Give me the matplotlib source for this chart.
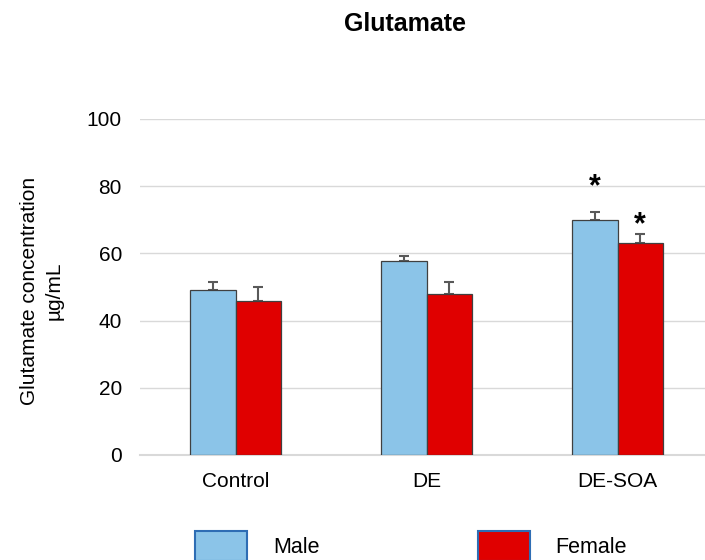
import numpy as np
import matplotlib.pyplot as plt
from matplotlib.patches import Patch

plt.rcParams['font.family'] = ['Liberation Sans', 'DejaVu Sans']

groups = ['Control', 'DE', 'DE-SOA']
male = [49.1, 57.6, 69.8]
female = [45.8, 48.0, 63.2]
male_err = [2.4, 1.7, 2.6]
female_err = [4.3, 3.6, 2.6]
male_sig = [False, False, True]
female_sig = [False, False, True]

blue = '#8BC4E8'
red = '#E00000'

fig = plt.figure(figsize=(7.05, 5.6), dpi=100)
ax = fig.add_axes([140 / 705, 1 - 455 / 560, 565 / 705, 336 / 560])

x = np.arange(len(groups))
w = 0.238
ax.bar(x - w / 2, male, w, color=blue, edgecolor='#404040', linewidth=0.9, zorder=3)
ax.bar(x + w / 2, female, w, color=red, edgecolor='#404040', linewidth=0.9, zorder=3)
ax.errorbar(x - w / 2, male, yerr=[np.zeros(3), male_err], fmt='none',
            ecolor='#595959', elinewidth=1.5, capsize=3.5, capthick=1.5, zorder=2)
ax.errorbar(x + w / 2, female, yerr=[np.zeros(3), female_err], fmt='none',
            ecolor='#595959', elinewidth=1.5, capsize=3.5, capthick=1.5, zorder=2)

for i in range(len(groups)):
    if male_sig[i]:
        ax.text(x[i] - w / 2, male[i] + male_err[i] + 7.2, '*', ha='center', va='center',
                fontsize=22, fontweight='bold')
    if female_sig[i]:
        ax.text(x[i] + w / 2, female[i] + female_err[i] + 2.6, '*', ha='center', va='center',
                fontsize=22, fontweight='bold')

ax.set_xlim(-0.5, -0.5 + 565 / 191)
ax.set_ylim(0, 100)
ax.set_yticks(range(0, 101, 20))
ax.set_xticks(x)
ax.set_xticklabels(groups)
ax.tick_params(axis='both', length=0, labelsize=15)
ax.tick_params(axis='y', pad=13)
ax.tick_params(axis='x', pad=12)
ax.grid(axis='y', color='#D9D9D9', linewidth=1, zorder=0)
for s in ['top', 'right', 'left']:
    ax.spines[s].set_visible(False)
ax.spines['bottom'].set_color('#D9D9D9')
ax.spines['bottom'].set_linewidth(1.5)

fig.text(42 / 705, 1 - 291 / 560, 'Glutamate concentration\n\u00b5g/mL', rotation=90,
         ha='center', va='center', fontsize=15, linespacing=1.35, multialignment='center')
fig.text(405 / 705, 1 - 24 / 560, 'Glutamate', ha='center', va='center',
         fontsize=18, fontweight='bold')

handles = [Patch(facecolor=blue, edgecolor='#2E6DB4', linewidth=1.5, label='Male'),
           Patch(facecolor=red, edgecolor='#2E6DB4', linewidth=1.5, label='Female')]
fig.legend(handles=handles, loc='upper left', bbox_to_anchor=(195 / 705, 1 - 531 / 560),
           ncol=2, frameon=False, fontsize=15.5, handlelength=2.42, handleheight=1.75,
           handletextpad=1.2, columnspacing=7.35, borderpad=0, borderaxespad=0)

fig.savefig('out.png', dpi=100)
